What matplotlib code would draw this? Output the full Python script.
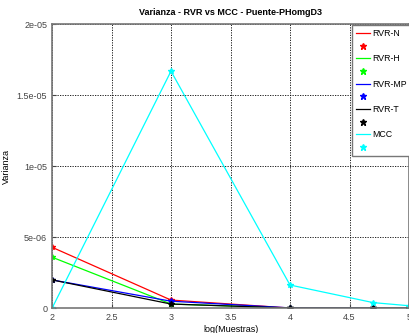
import matplotlib.pyplot as plt
from matplotlib.lines import Line2D

# log10 of the sample counts
log_muestras = [2, 3, 4, 4.699, 5]

rvr_n = [4.3e-06, 0.58e-06, 0.02e-06, 0.01e-06, 0.005e-06]
rvr_h = [3.6e-06, 0.3e-06, 0.02e-06, 0.01e-06, 0.005e-06]
rvr_mp = [2.0e-06, 0.5e-06, 0.03e-06, 0.01e-06, 0.005e-06]
rvr_t = [2.0e-06, 0.3e-06, 0.02e-06, 0.01e-06, 0.005e-06]
mcc = [0.0, 16.7e-06, 1.64e-06, 0.4e-06, 0.18e-06]

series = [
    ("RVR-N", rvr_n, "red"),
    ("RVR-H", rvr_h, "lime"),
    ("RVR-MP", rvr_mp, "blue"),
    ("RVR-T", rvr_t, "black"),
    ("MCC", mcc, "cyan"),
]

x_ticks = [2, 2.5, 3, 3.5, 4, 4.5, 5]
y_ticks = [0, 5e-06, 1e-05, 1.5e-05, 2e-05]
y_labels = ["0", "5e-06", "1e-05", "1.5e-05", "2e-05"]

plt.rcParams["font.family"] = ["Liberation Sans", "DejaVu Sans"]

fig = plt.figure(figsize=(4.09, 3.33), dpi=100)
ax = fig.add_axes([52 / 409, 24.7 / 333, 357 / 409, 284 / 333])

handles = []
labels = []
for name, values, color in series:
    ax.plot(log_muestras, values, color=color, lw=0.9, marker="*", ms=4)
    handles.append(Line2D([], [], color=color, lw=0.9))
    labels.append(name)
    handles.append(Line2D([], [], color=color, ls="none", marker="*", ms=4.5))
    labels.append(" ")

ax.set_xlim(2, 5)
ax.set_ylim(0, 2e-05)
ax.set_xticks(x_ticks)
ax.set_xticklabels([f"{t:g}" for t in x_ticks])
ax.set_yticks(y_ticks)
ax.set_yticklabels(y_labels)
ax.tick_params(labelsize=6.5, colors="#444444", length=3, direction="in")
ax.grid(True, color="black", ls=(0, (1.5, 1.5)), lw=0.6)
for spine in ax.spines.values():
    spine.set_color("#777777")
    spine.set_linewidth(1.2)

ax.set_title("Varianza - RVR vs MCC - Puente-PHomgD3", fontsize=6.5,
             fontweight="bold", pad=7)
ax.set_xlabel("log(Muestras)", fontsize=6.5, labelpad=2)
ax.set_ylabel("Varianza", fontsize=6.5, labelpad=4)

ax.legend(handles, labels, loc="upper left",
          bbox_to_anchor=(352 / 409, 1 - 25 / 333), bbox_transform=fig.transFigure,
          fontsize=6.3, frameon=True, fancybox=False, framealpha=1,
          edgecolor="#777777", handlelength=1.6, handletextpad=0.3,
          labelspacing=0.42, borderaxespad=0, borderpad=0.45)

fig.savefig("out.png", dpi=100)
